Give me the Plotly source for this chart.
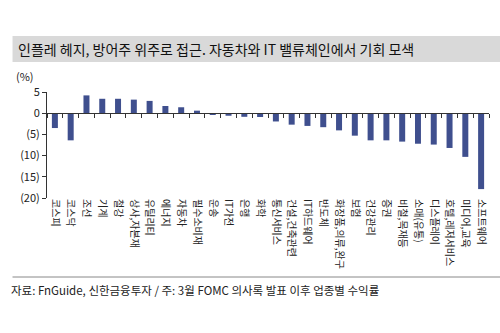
import plotly.graph_objects as go

categories = ["코스피", "코스닥", "조선", "기계", "철강", "상사,자본재", "유틸리티", "에너지",
              "자동차", "필수소비재", "운송", "IT가전", "은행", "화학", "통신서비스",
              "건설,건축관련", "IT하드웨어", "반도체", "화장품,의류,완구", "보험", "건강관리",
              "증권", "비철,목재등", "소매(유통)", "디스플레이", "호텔,레저서비스", "미디어,교육",
              "소프트웨어"]
returns = [-3.5, -6.4, 4.2, 3.4, 3.4, 3.2, 2.9, 1.7, 1.4, 0.6, -0.3, -0.6, -0.85, -0.9,
           -1.95, -2.7, -3.0, -3.3, -4.05, -5.3, -6.4, -6.4, -6.7, -7.2, -7.4, -8.2, -10.3, -17.9]
y_tickvals = [5, 0, -5, -10, -15, -20]
y_ticktext = ["5", "0", "(5)", "(10)", "(15)", "(20)"]

title_text = "인플레 헤지, 방어주 위주로 접근. 자동차와 IT 밸류체인에서 기회 모색"
footer_text = "자료: FnGuide, 신한금융투자 / 주: 3월 FOMC 의사록 발표 이후 업종별 수익률"

FONT = "Noto Sans CJK KR"
n = len(categories)
xs = list(range(n))

fig = go.Figure()
fig.add_trace(go.Bar(x=xs, y=returns, marker=dict(color="#3f4f8e", line=dict(width=0)),
                     showlegend=False, hoverinfo="skip"))

fig.update_layout(
    width=500, height=333,
    margin=dict(l=47, r=11, t=92, b=135),
    paper_bgcolor="white", plot_bgcolor="white",
    bargap=0.62,
    font=dict(family=FONT, color="#222222"),
    xaxis=dict(range=[-0.5, n - 0.5], tickvals=xs, ticktext=categories, tickangle=90,
               showline=False, ticks="", showgrid=False, zeroline=False,
               tickfont=dict(size=10, family=FONT, color="#222222")),
    xaxis2=dict(range=[-0.5, n - 0.5], overlaying="x", anchor="free", position=0.8,
                side="bottom", showline=True, linecolor="#333333", linewidth=1,
                tickvals=[i - 0.5 for i in range(n + 1)], ticks="outside", ticklen=4,
                tickcolor="#333333", showticklabels=False, showgrid=False, zeroline=False),
    yaxis=dict(range=[-20, 5], tickvals=y_tickvals, ticktext=y_ticktext,
               showline=True, linecolor="#333333", linewidth=1, ticks="outside", ticklen=4,
               tickcolor="#333333", showgrid=False, zeroline=False,
               tickfont=dict(size=11, family=FONT, color="#222222")),
    shapes=[
        dict(type="rect", xref="paper", yref="paper", x0=-0.078, x1=1.052,
             y0=(333 - 135 - 62) / 106.0 - 0.0, y1=(333 - 135 - 36) / 106.0,
             fillcolor="#d9d9d9", line=dict(width=0), layer="below"),
        dict(type="line", xref="paper", yref="paper", x0=-0.078, x1=1.052,
             y0=-(277 - 198) / 106.0, y1=-(277 - 198) / 106.0,
             line=dict(color="#888888", width=1)),
    ],
    annotations=[
        dict(text=title_text, xref="paper", yref="paper", x=-0.07, y=(333 - 135 - 49) / 106.0,
             xanchor="left", yanchor="middle", showarrow=False,
             font=dict(size=14, family=FONT, color="#111111")),
        dict(text="(%)", xref="paper", yref="paper", x=-0.025, y=(333 - 135 - 76) / 106.0,
             xanchor="right", yanchor="middle", showarrow=False,
             font=dict(size=11, family=FONT, color="#222222")),
        dict(text=footer_text, xref="paper", yref="paper", x=-0.085, y=-(290 - 198) / 106.0,
             xanchor="left", yanchor="middle", showarrow=False,
             font=dict(size=11.5, family=FONT, color="#222222")),
    ],
)
fig.add_trace(go.Scatter(x=[], y=[], xaxis="x2", showlegend=False))

fig.write_html("out.html")
